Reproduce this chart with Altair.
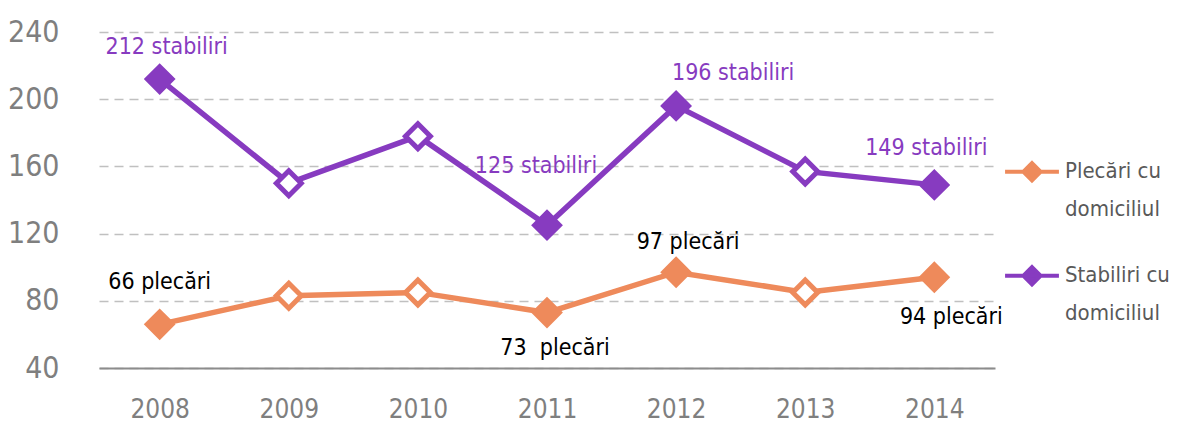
import altair as alt
import pandas as pd

years = ["2008", "2009", "2010", "2011", "2012", "2013", "2014"]
series_names = ["Plecări cu domiciliul", "Stabiliri cu domiciliul"]
plecari = [66, 83, 85, 73, 97, 85, 94]
stabiliri = [212, 150, 178, 125, 196, 157, 149]
plecari_labels = ["66 plecări", "", "", "73\u00a0 plecări", "97 plecări", "", "94 plecări"]
stabiliri_labels = ["212 stabiliri", "", "", "125 stabiliri", "196 stabiliri", "", "149 stabiliri"]

# label offsets in pixels (dx, dy), per point
plecari_offsets = [(0, -42), None, None, (8, 35), (12, -30), None, (17, 40)]
stabiliri_offsets = [(7, -32), None, None, (-11, -59), (57, -33), None, (-8, -37)]

colors = ["#EE8A5B", "#873BC0"]
text_colors = ["#000000", "#873BC0"]

rows = []
for name, vals, labs in [(series_names[0], plecari, plecari_labels),
                         (series_names[1], stabiliri, stabiliri_labels)]:
    for y, v, l in zip(years, vals, labs):
        rows.append({"year": y, "value": v, "series": name, "label": l,
                     "filled": l != ""})
df = pd.DataFrame(rows)

FONT = "DejaVu Sans Condensed, sans-serif"

x_enc = alt.X("year:O", scale=alt.Scale(type="point", padding=0.47),
              axis=alt.Axis(title=None, labelAngle=0, labelFontSize=26,
                            labelColor="#7f7f7f", labelPadding=28, ticks=False,
                            domainColor="#8c8c8c", domainWidth=2, grid=False,
                            labelFont=FONT))
y_enc = alt.Y("value:Q", scale=alt.Scale(domain=[40, 240], nice=False, zero=False),
              axis=alt.Axis(title=None, values=[40, 80, 120, 160, 200, 240],
                            labelFontSize=30, labelColor="#7f7f7f", labelPadding=40,
                            ticks=False, domain=False, grid=True,
                            gridColor="#c0c0c0", gridDash=[9, 6], gridWidth=1.5,
                            labelFont=FONT))
color_scale = alt.Scale(domain=series_names, range=colors)

legend = alt.Legend(
    title=None, orient="none", legendX=904, legendY=100,
    symbolType="M-1,0.4L1,0.4M0,0.08L0.32,0.4L0,0.72L-0.32,0.4Z",
    symbolSize=2900, symbolStrokeWidth=4, symbolFillColor="white",
    labelFontSize=22, labelColor="#595959", labelFont=FONT, labelLimit=300,
    labelExpr="[split(datum.label, ' cu ')[0] + ' cu', split(datum.label, ' cu ')[1]]",
    labelBaseline="top", rowPadding=16, labelOffset=4,
)

base = alt.Chart(df)

lines = base.mark_line(strokeWidth=5.5).encode(
    x=x_enc, y=y_enc,
    color=alt.Color("series:N", scale=color_scale, legend=legend),
)

hollow = base.transform_filter("!datum.filled").mark_point(
    shape="diamond", size=620, strokeWidth=5, fill="white", filled=False, opacity=1
).encode(x=x_enc, y=y_enc,
         stroke=alt.Stroke("series:N", scale=color_scale, legend=None))

solid = base.transform_filter("datum.filled").mark_point(
    shape="diamond", size=760, strokeWidth=3, filled=True, opacity=1
).encode(x=x_enc, y=y_enc,
         fill=alt.Fill("series:N", scale=color_scale, legend=None),
         stroke=alt.Stroke("series:N", scale=color_scale, legend=None))

layers = [lines, hollow, solid]
for si, (name, labs, offs) in enumerate([(series_names[0], plecari_labels, plecari_offsets),
                                         (series_names[1], stabiliri_labels, stabiliri_offsets)]):
    for yr, lab, off in zip(years, labs, offs):
        if not lab:
            continue
        layers.append(
            base.transform_filter(
                (alt.datum.series == name) & (alt.datum.year == yr)
            ).mark_text(dx=off[0], dy=off[1], fontSize=23, font=FONT,
                        color=text_colors[si], align="center", baseline="middle")
            .encode(x=x_enc, y=y_enc, text="label:N")
        )

chart = alt.layer(*layers).properties(
    width=896, height=336, background="white",
    autosize=alt.AutoSizeParams(type="none"),
    padding={"left": 91, "top": 24, "right": 174, "bottom": 60},
).configure(style={"guide-label": {"lineHeight": 38}}, view=alt.ViewConfig(stroke=None))

chart.save("out.html", embed_options={"renderer": "svg", "actions": False})
